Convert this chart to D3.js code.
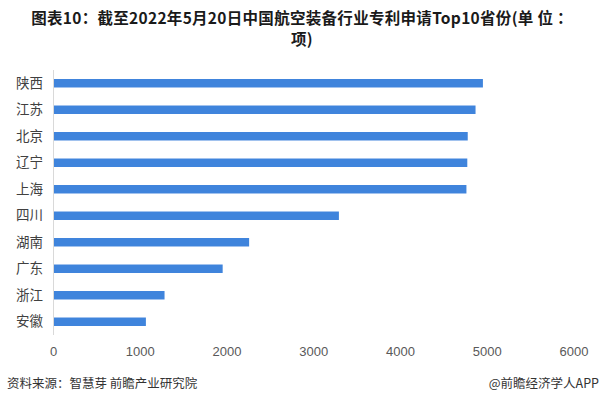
<!DOCTYPE html>
<html><head><meta charset="utf-8">
<script src="https://cdn.jsdelivr.net/npm/d3@7"></script>
<style>body{margin:0;background:#fff;}svg{display:block;font-family:"Noto Sans CJK SC","Noto Sans",sans-serif;}</style>
</head><body>
<svg id="c" width="601" height="405"></svg>
<script>
const categories = ["陕西","江苏","北京","辽宁","上海","四川","湖南","广东","浙江","安徽"];
const values = [4950, 4865, 4775, 4770, 4760, 3290, 2255, 1950, 1280, 1065];
const xTicks = [0,1000,2000,3000,4000,5000,6000];
const titleLines = ["图表10：截至2022年5月20日中国航空装备行业专利申请Top10省份(单 位 ：","项)"];
const source = "资料来源：智慧芽 前瞻产业研究院";
const brand = "@前瞻经济学人APP";

const svg = d3.select("#c");
const x = d3.scaleLinear().domain([0,6000]).range([53.5,574]);
const y = d3.scaleBand().domain(categories).range([70,335]).paddingInner(0.68).paddingOuter(0.34);

svg.selectAll("text.title").data(titleLines).join("text")
  .attr("x",302).attr("y",(d,i)=>24+i*21).attr("text-anchor","middle")
  .attr("font-size",15.5).attr("letter-spacing","0.3px").attr("font-weight","bold").attr("fill","#1a1a1a").text(d=>d);

svg.selectAll("rect.bar").data(values).join("rect")
  .attr("x",x(0)).attr("y",(d,i)=>y(categories[i]))
  .attr("width",d=>x(d)-x(0)).attr("height",y.bandwidth()).attr("fill","#3f84dc");

svg.append("line").attr("x1",x(0)).attr("x2",x(0)).attr("y1",70).attr("y2",335)
  .attr("stroke","#d9d9d9").attr("stroke-width",1);

svg.selectAll("text.cat").data(categories).join("text")
  .attr("x",43).attr("y",d=>y(d)+y.bandwidth()/2).attr("dy","0.35em")
  .attr("text-anchor","end").attr("font-size",13.5).attr("fill","#404040").text(d=>d);

svg.selectAll("text.tick").data(xTicks).join("text")
  .attr("x",d=>x(d)).attr("y",351).attr("dy","0.35em").attr("text-anchor","middle")
  .attr("font-size",13).attr("fill","#595959").attr("font-family","Liberation Sans, Arial, sans-serif").text(d=>d);

svg.append("text").attr("x",7).attr("y",388).attr("font-size",12.5).attr("fill","#333").text(source);
svg.append("text").attr("x",599).attr("y",388).attr("text-anchor","end").attr("font-size",12.5).attr("fill","#333").text(brand);
</script>
</body></html>
